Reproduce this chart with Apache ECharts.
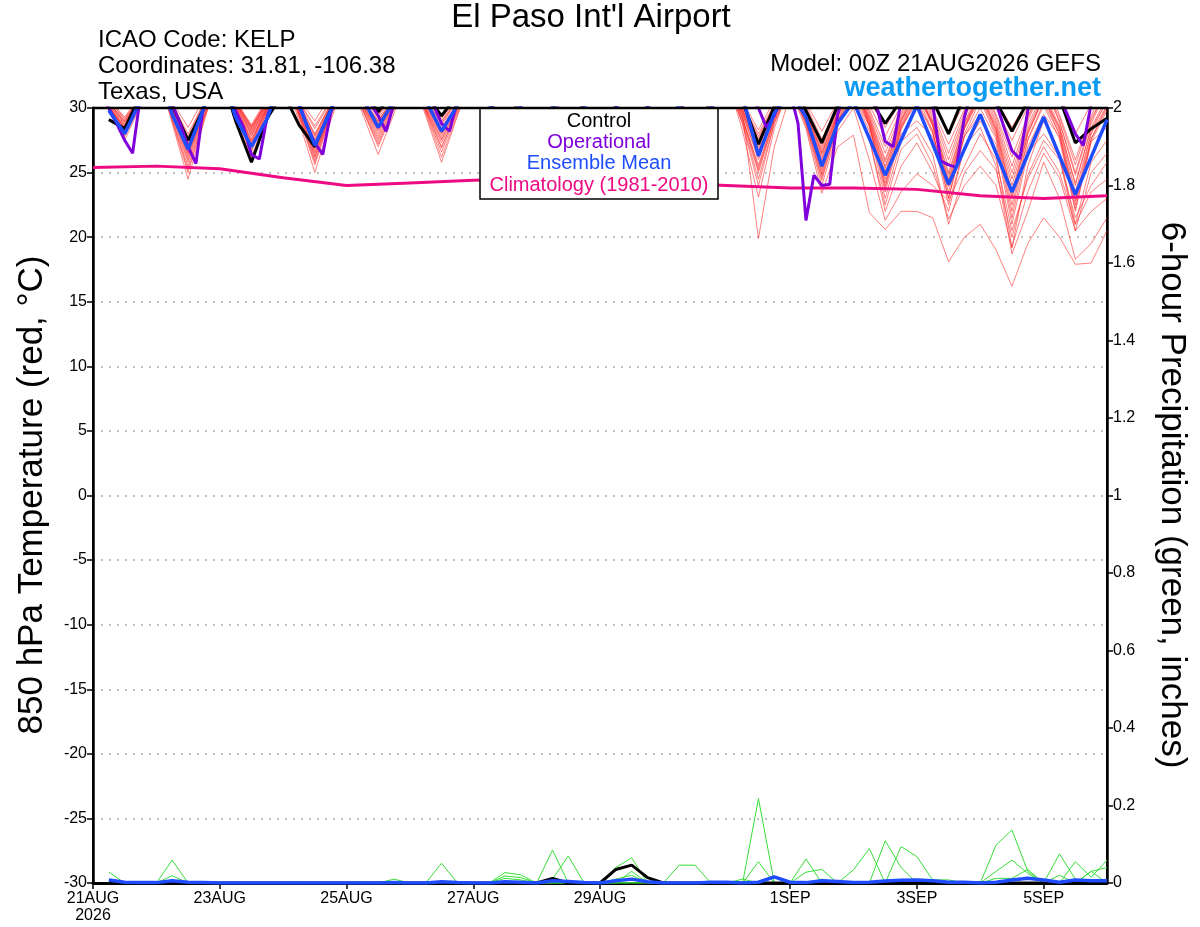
<!DOCTYPE html>
<html><head><meta charset="utf-8">
<script src="https://cdn.jsdelivr.net/npm/echarts@6/dist/echarts.min.js"></script>
<style>html,body{margin:0;padding:0;background:#fff}#c{width:1200px;height:927px}</style>
</head><body><div id="c"></div><script>
// ---------- time base (hours after 21AUG2026 00Z) ----------
const hours6 = [6,12,18,24,30,36,42,48,54,60,66,72,78,84,90,96,102,108,114,120,126,132,138,144,150,156,162,168,174,180,186,192,198,204,210,216,222,228,234,240,246,252,258,264,270,276,282,288,294,300,306,312,318,324,330,336,342,348,354,360,366,372,378,384];
const hours3 = [];
for (let h = 3; h <= 384; h += 3) hours3.push(h);
const climHours = [0,24,48,72,96,120,144,168,192,216,240,264,288,312,336,360,384];

// ---------- x tick labels ----------
const tickIndex = [0,8,16,24,32,44,52,60];
const tickText = ['21AUG\n2026','23AUG','25AUG','27AUG','29AUG','1SEP','3SEP','5SEP'];

// ---------- 850 hPa temperature (deg C) ----------
const controlT = [29.1,28.4,31.0,33.2, 30.2,27.5,30.0,33.0, 29.0,25.8,29.2,31.2, 28.7,27.0,29.9,33.0, 31.5,29.7,31.3,33.4, 31.0,29.4,31.0,33.2, 30.6,28.6,30.8,33.0, 30.4,28.0,30.5,32.8, 30.0,27.5,30.2,33.0, 30.5,28.2,30.6,32.6, 30.5,27.2,30.1,32.5, 29.8,27.3,30.2,33.0, 30.8,28.8,30.6,32.6, 30.6,28.0,31.0,32.8, 30.5,28.2,30.5,32.5, 30.8,27.3,28.4,29.2];
const meanT = [29.8,28.0,30.6,33.0, 29.5,26.8,30.0,33.0, 29.3,27.0,29.2,32.8, 30.2,27.1,29.8,33.0, 30.8,28.5,30.6,33.2, 30.6,28.2,30.2,33.0, 30.3,28.0,30.3,32.8, 30.1,27.6,30.0,32.6, 30.2,27.8,30.1,32.7, 29.9,27.2,29.9,32.4, 30.9,26.3,29.6,31.3, 29.3,25.5,28.8,30.5, 27.65,24.8,27.5,30.2, 27.2,24.1,26.8,29.5, 26.5,23.5,26.4,29.3, 26.3,23.3,26.2,29.1];
const operationalT = [31.0,30.0,28.8,27.5,26.5,31.0,32.5,33.0, 32.0,30.3,28.8,27.0,25.7,30.5,32.5,33.2, 31.2,29.8,28.5,26.4,26.05,29.4,31.0,32.8, 32.0,30.5,28.6,27.3,26.4,29.6,31.2,33.0, 32.5,31.3,30.4,29.4,28.2,30.4,32.0,33.3, 32.4,31.2,30.2,28.8,28.2,30.6,32.0,33.0, 32.0,30.6,29.2,28.0,27.6,30.0,31.8,33.0, 32.3,31.0,29.6,28.8,28.5,30.5,32.0,33.2, 32.0,30.4,28.8,27.4,27.0,29.8,31.6,32.8, 32.0,30.6,29.3,28.2,27.8,30.2,31.8,33.0, 32.5,31.5,30.8,30.0,28.5,29.4,31.2,31.2, 28.8,21.3,24.8,24.0,24.1,29.5,32.0,33.0, 32.0,30.8,30.0,27.4,27.0,30.5,32.0,33.0, 31.8,30.3,25.9,25.6,25.4,29.3,31.5,32.5, 32.0,30.4,28.5,26.7,26.05,29.8,31.5,32.5, 31.8,30.8,29.5,28.0,27.1,30.3,32.0,32.5];
const climatologyT = [25.4,25.5,25.3,24.6,24.0,24.2,24.4,24.5,24.3,24.2,24.0,23.8,23.8,23.7,23.2,23.0,23.2];

const mem01 = [30.0,28.6,30.6,33.0, 29.9,27.2,30.0,33.2, 30.1,27.8,30.2,32.8, 29.7,26.5,29.6,33.0, 30.3,28.0,30.4,33.5, 30.0,27.5,30.1,33.1, 30.1,27.6,30.2,33.0, 29.9,27.0,29.8,32.7, 30.0,27.4,30.1,32.9, 29.8,26.8,29.7,32.4, 29.5,26.0,29.4,32.0, 29.3,25.4,29.0,31.6, 28.6,24.0,28.4,30.5, 28.2,23.0,27.8,30.0, 27.6,21.5,27.0,29.5, 27.8,22.2,27.4,28.5];
const mem02 = [30.4,29.0,30.9,33.4, 29.5,26.0,29.6,33.0, 30.4,28.2,30.5,33.2, 30.2,27.8,30.3,33.4, 30.7,29.0,30.8,33.6, 30.6,28.8,30.7,33.3, 30.4,28.2,30.4,33.1, 30.5,28.5,30.6,33.2, 30.3,28.0,30.3,33.0, 30.1,27.5,30.0,32.8, 29.9,27.0,29.9,32.6, 29.7,26.5,29.6,32.2, 29.2,25.5,29.0,31.5, 28.8,24.5,28.6,31.2, 28.6,24.0,28.4,31.0, 28.4,23.5,28.1,30.6];
const mem03 = [30.2,28.2,30.5,32.8, 29.2,25.5,29.3,32.6, 29.8,27.0,29.9,32.7, 29.0,25.0,29.0,32.5, 29.9,27.2,30.0,33.0, 29.6,26.2,29.5,32.8, 29.8,26.8,29.8,32.8, 29.5,26.0,29.4,32.5, 29.7,26.5,29.6,32.6, 29.5,26.0,29.3,32.0, 29.0,25.0,29.0,31.5, 28.8,24.6,28.6,30.5, 27.6,22.5,26.8,28.0, 25.6,21.4,24.0,25.5, 24.0,19.2,23.5,26.5, 24.6,20.5,22.0,23.0];
const mem04 = [30.5,28.9,30.8,33.5, 30.2,27.8,30.4,33.6, 30.5,28.5,30.6,33.5, 30.4,28.0,30.3,33.7, 31.0,29.5,31.2,34.0, 30.9,29.2,31.0,33.8, 30.7,28.8,30.8,33.6, 30.8,29.0,30.9,33.5, 30.6,28.6,30.7,33.4, 30.5,28.4,30.5,33.2, 30.2,27.6,30.2,33.0, 30.0,27.2,30.0,32.8, 29.9,27.0,29.9,32.6, 29.7,26.5,29.7,32.3, 29.3,25.5,29.2,32.0, 29.0,25.0,29.0,31.6];
const mem05 = [29.8,27.8,30.3,33.0, 29.7,26.5,29.7,32.8, 29.7,26.6,29.8,32.9, 29.9,27.2,30.0,33.2, 30.4,28.4,30.5,33.4, 29.9,27.0,29.9,33.0, 30.0,27.2,30.0,33.0, 29.7,26.6,29.7,32.8, 29.9,27.0,29.9,32.8, 29.4,25.8,29.3,32.4, 28.2,23.1,28.4,32.0, 28.6,24.0,28.2,30.0, 26.0,21.3,23.5,24.9, 24.0,22.8,25.5,28.0, 26.0,20.5,24.5,27.0, 25.0,21.0,23.5,24.5];
const mem06 = [30.1,28.4,30.6,33.1, 28.8,24.5,28.9,33.0, 30.0,27.4,30.1,33.0, 29.5,26.0,29.5,33.1, 30.1,27.6,30.2,33.4, 30.3,28.0,30.3,33.2, 30.2,27.9,30.3,33.0, 30.1,27.6,30.1,33.0, 30.2,27.8,30.2,32.9, 29.9,27.0,29.8,32.6, 29.7,26.5,29.6,32.3, 29.4,25.8,29.3,32.0, 29.0,25.0,28.9,31.4, 28.6,24.0,28.4,31.0, 28.2,23.0,28.0,30.8, 28.5,24.2,28.4,30.5];
const mem07 = [30.7,29.3,31.0,33.6, 30.5,28.5,30.7,33.6, 30.6,28.7,30.8,33.8, 30.7,29.0,31.0,34.0, 31.4,30.0,31.6,34.2, 31.3,30.0,31.4,34.0, 31.0,29.4,31.1,33.8, 31.1,29.5,31.2,33.9, 31.0,29.3,31.0,33.7, 30.8,29.0,30.9,33.5, 30.5,28.3,30.6,33.3, 30.4,28.2,30.5,33.2, 30.6,28.5,30.6,33.0, 30.3,28.0,30.4,33.0, 30.6,28.5,30.6,33.0, 30.3,28.0,30.3,32.6];
const mem08 = [29.9,28.0,30.4,33.0, 29.8,26.8,29.8,32.9, 29.5,26.2,29.5,32.6, 30.0,27.5,30.1,33.0, 29.6,26.4,29.6,32.8, 29.4,25.8,29.4,32.6, 29.5,26.0,29.5,32.6, 29.2,25.5,29.2,32.4, 29.2,25.5,29.3,32.3, 29.0,25.0,29.0,32.0, 28.8,24.5,28.8,31.5, 28.4,23.4,27.0,27.9, 21.9,20.6,22.0,22.0, 21.5,18.1,20.0,21.0, 19.0,16.2,19.5,21.5, 20.0,17.9,18.0,20.5];
const mem09 = [30.3,28.7,30.7,33.2, 30.1,27.5,30.1,33.1, 30.3,28.0,30.3,33.2, 29.8,26.8,29.8,33.3, 30.6,28.8,30.7,33.6, 30.5,28.4,30.5,33.3, 30.5,28.5,30.5,33.2, 30.3,28.0,30.3,33.0, 30.4,28.2,30.4,33.0, 30.2,27.8,30.2,32.8, 29.8,26.8,29.7,32.4, 29.5,26.2,29.4,32.0, 28.9,24.8,28.7,31.2, 28.6,23.9,28.4,30.8, 28.0,22.5,27.6,30.4, 28.0,22.8,27.6,30.0];
const mem10 = [29.7,27.5,30.2,33.0, 29.4,25.8,29.4,32.7, 30.0,27.6,30.1,33.0, 29.3,25.6,29.3,32.6, 29.9,27.0,29.9,33.0, 29.7,26.6,29.7,32.8, 29.9,27.0,29.9,32.9, 29.8,26.8,29.8,32.8, 29.6,26.2,29.5,32.6, 29.6,26.5,29.5,32.0, 29.5,19.9,27.0,31.0, 29.0,25.0,29.0,31.0, 28.6,23.5,28.0,29.0, 27.8,22.5,27.0,28.5, 25.5,18.7,22.0,25.8, 23.0,18.3,19.5,21.5];
const mem11 = [30.6,29.1,30.9,33.4, 29.9,27.0,30.0,33.3, 30.5,28.4,30.6,33.4, 30.5,28.4,30.5,33.6, 30.9,29.2,31.0,33.9, 31.0,29.5,31.2,33.9, 30.6,28.6,30.7,33.5, 30.7,28.8,30.8,33.6, 30.8,29.0,30.9,33.5, 30.3,28.0,30.3,33.1, 30.1,27.4,30.1,32.9, 30.2,27.6,30.1,32.8, 29.7,26.5,29.6,32.3, 29.2,25.5,29.2,32.0, 29.5,26.2,29.4,31.8, 28.9,24.8,28.8,31.4];
const mem12 = [30.1,28.3,30.5,33.0, 29.6,26.2,29.6,32.9, 29.9,27.3,30.0,33.0, 29.6,26.3,29.6,32.9, 30.2,28.2,30.3,33.2, 29.9,27.3,29.9,33.0, 30.0,27.4,30.0,33.0, 29.9,27.3,30.0,33.0, 30.0,27.6,30.1,32.9, 29.9,27.2,29.8,32.5, 29.2,25.6,29.2,31.8, 28.8,24.4,28.6,31.0, 28.2,23.0,27.4,28.5, 26.4,21.0,25.0,26.7, 25.2,20.0,24.8,27.5, 26.0,21.5,24.0,25.8];
const mem13 = [30.4,28.8,30.8,33.3, 30.1,27.4,30.2,33.4, 30.5,28.6,30.6,33.4, 30.2,27.6,30.2,33.5, 30.9,29.4,31.1,33.8, 30.6,28.6,30.7,33.6, 30.8,29.0,30.9,33.6, 30.5,28.4,30.6,33.4, 30.7,28.8,30.8,33.4, 30.6,28.6,30.7,33.2, 30.3,28.0,30.3,33.0, 29.8,26.8,29.8,32.6, 30.2,27.8,30.2,32.6, 29.9,27.2,29.9,32.4, 30.0,27.5,30.1,32.5, 29.5,26.0,29.4,32.0];
const mem14 = [29.9,27.9,30.3,33.0, 29.1,25.2,29.2,32.7, 29.8,26.8,29.8,32.8, 29.7,26.6,29.7,33.0, 30.2,27.8,30.3,33.2, 30.2,27.8,30.2,33.1, 29.7,26.5,29.7,32.8, 30.2,27.9,30.2,33.1, 29.8,26.8,29.8,32.7, 29.6,26.3,29.5,32.3, 28.7,24.0,28.8,32.0, 29.1,25.2,29.0,30.8, 27.6,22.0,25.5,27.3, 25.0,22.0,27.0,29.0, 27.2,21.0,26.5,28.0, 26.2,20.5,25.0,26.5];
const mem15 = [30.2,28.5,30.6,33.2, 29.7,26.6,29.8,33.0, 30.2,27.9,30.3,33.1, 29.9,27.0,29.9,33.2, 30.5,28.6,30.6,33.5, 30.4,28.2,30.4,33.2, 30.3,28.0,30.4,33.1, 30.4,28.2,30.4,33.1, 29.9,27.2,30.0,32.8, 30.1,27.6,30.1,32.7, 29.5,26.2,29.5,32.3, 29.5,26.0,29.4,32.0, 28.7,24.2,28.5,31.2, 28.9,24.8,28.8,31.2, 28.4,23.5,28.2,30.8, 28.2,23.0,28.0,30.2];
const mem16 = [30.6,29.2,30.9,33.5, 30.3,28.0,30.4,33.5, 30.4,28.3,30.5,33.6, 30.5,28.6,30.6,33.8, 31.1,29.6,31.3,34.0, 30.8,29.0,30.9,33.8, 30.9,29.2,31.0,33.7, 30.6,28.6,30.7,33.6, 30.9,29.2,31.0,33.6, 30.7,28.8,30.7,33.3, 30.2,27.8,30.2,33.0, 29.9,27.0,29.9,32.6, 29.5,26.0,29.4,32.2, 29.5,26.0,29.4,32.0, 29.0,25.0,29.0,31.8, 29.3,25.6,29.2,31.4];
const mem17 = [30.0,28.1,30.4,32.9, 29.6,26.4,29.7,32.8, 29.9,27.2,30.0,32.9, 29.4,25.8,29.4,32.7, 30.0,27.4,30.1,33.1, 29.8,26.9,29.8,32.9, 29.7,26.4,29.7,32.7, 29.6,26.2,29.6,32.6, 29.5,26.0,29.5,32.5, 29.3,25.5,29.2,32.2, 29.2,25.4,29.2,32.0, 29.0,24.8,28.9,31.6, 28.6,23.8,28.3,31.0, 28.2,23.0,28.0,30.6, 27.8,22.0,27.5,30.2, 27.6,22.0,27.4,29.8];
const mem18 = [30.4,28.9,30.8,33.3, 30.1,27.6,30.2,33.2, 30.3,28.1,30.4,33.3, 30.0,27.3,30.0,33.4, 30.6,28.9,30.8,33.7, 30.3,28.0,30.4,33.4, 30.4,28.3,30.5,33.3, 30.3,28.0,30.3,33.2, 30.4,28.4,30.5,33.2, 30.3,28.2,30.4,33.0, 29.9,27.2,29.9,32.7, 29.7,26.6,29.6,32.4, 29.3,25.8,29.2,31.8, 29.0,25.0,28.9,31.5, 28.8,24.5,28.7,31.2, 28.6,24.0,28.5,30.8];
const mem19 = [30.1,28.4,30.6,33.1, 29.0,25.0,29.1,32.8, 30.1,27.5,30.1,33.0, 29.6,26.2,29.6,33.0, 30.3,28.3,30.4,33.3, 30.1,27.6,30.1,33.0, 30.1,27.6,30.1,33.0, 29.9,27.2,29.9,32.8, 30.0,27.4,30.0,32.8, 29.7,26.6,29.6,32.4, 29.1,25.2,29.1,32.0, 29.3,25.6,29.2,31.8, 28.8,24.5,28.6,30.5, 28.0,23.5,27.8,29.5, 26.4,19.2,25.5,29.0, 26.5,21.0,25.8,27.5];
const mem20 = [30.3,28.6,30.7,33.2, 30.0,27.1,30.1,33.1, 30.4,28.5,30.5,33.3, 30.3,27.9,30.3,33.4, 30.7,29.0,30.8,33.7, 30.6,28.9,30.7,33.5, 30.3,28.0,30.3,33.2, 30.5,28.7,30.6,33.3, 30.5,28.5,30.5,33.2, 30.2,27.9,30.2,32.9, 29.7,26.6,29.7,32.5, 29.6,26.4,29.5,32.2, 29.1,25.3,29.0,31.6, 28.7,24.3,28.5,31.2, 28.3,23.2,28.0,30.8, 27.9,22.5,27.6,30.2];
const tempMembers = [mem01,mem02,mem03,mem04,mem05,mem06,mem07,mem08,mem09,mem10,mem11,mem12,mem13,mem14,mem15,mem16,mem17,mem18,mem19,mem20];

// ---------- 6-hour precipitation (inches) ----------
const controlP = [0,0,0,0, 0,0,0,0, 0,0,0,0, 0,0,0,0, 0,0,0,0, 0,0,0,0, 0,0,0,0, 0.012,0,0,0, 0.035,0.046,0.014,0, 0,0,0,0, 0,0,0,0, 0,0,0,0, 0,0,0,0, 0,0,0,0, 0,0,0,0, 0,0,0,0];
const meanP = [0.008,0.002,0.001,0.001, 0.006,0.002,0.001,0, 0,0,0,0, 0,0,0,0, 0,0,0.001,0, 0,0.003,0.001,0, 0,0.003,0.002,0, 0.006,0.004,0.001,0, 0.006,0.01,0.003,0, 0,0,0.002,0.002, 0,0.002,0.016,0.002, 0.001,0.006,0.004,0.001, 0.002,0.005,0.007,0.008, 0.006,0.002,0.002,0, 0.002,0.008,0.012,0.008, 0.002,0.008,0.006,0.006, 0.005];
const precip1 = [0.028,0,0,0, 0.059,0,0,0, 0,0,0,0, 0,0,0,0, 0,0,0,0, 0,0,0,0, 0,0,0,0, 0.085,0,0,0, 0,0,0,0, 0,0,0,0, 0,0.218,0,0, 0,0,0,0, 0,0,0,0, 0,0,0,0, 0.098,0.137,0.03,0, 0,0,0,0];
const precip2 = [0.008,0,0,0, 0.019,0,0,0, 0,0,0,0, 0,0,0,0, 0,0,0,0, 0,0.051,0,0, 0,0,0,0, 0,0,0,0, 0.04,0.065,0,0, 0,0,0,0, 0,0,0,0, 0.062,0,0,0, 0,0,0,0, 0,0,0,0, 0,0,0,0, 0.075,0.01,0,0];
const precip3 = [0,0,0,0, 0,0,0,0, 0,0,0,0, 0,0,0,0, 0,0,0.01,0, 0,0,0,0, 0,0.027,0.021,0, 0.01,0.07,0,0, 0,0,0,0, 0,0,0,0, 0,0.055,0,0, 0,0,0,0.034, 0.089,0,0,0, 0,0,0,0, 0,0,0,0, 0,0,0.03,0];
const precip4 = [0,0,0,0, 0,0,0.003,0, 0,0,0,0, 0,0,0,0, 0,0,0,0, 0,0,0,0, 0,0.018,0.014,0, 0,0,0,0, 0,0,0,0, 0.046,0.046,0,0, 0,0,0,0, 0,0,0,0, 0,0.109,0.04,0, 0,0,0,0, 0,0,0,0, 0,0.055,0.015,0.059];
const precip5 = [0,0,0,0, 0,0,0,0, 0,0,0,0, 0,0,0,0, 0,0,0,0, 0,0,0,0, 0,0.012,0.008,0, 0,0,0,0, 0.01,0.02,0,0, 0,0,0,0, 0,0,0,0, 0.028,0.035,0,0, 0,0,0.094,0.068, 0.008,0.008,0,0, 0.03,0.059,0.025,0, 0,0,0,0];
const precip6 = [0,0,0,0, 0,0,0,0, 0,0,0,0, 0.003,0,0,0, 0.003,0,0,0, 0,0,0,0, 0,0,0,0, 0,0,0,0, 0,0.03,0,0, 0,0,0,0, 0.01,0,0,0, 0,0.01,0,0, 0,0,0,0, 0,0,0,0, 0.012,0.012,0.035,0, 0.02,0,0.03,0.04];
const precipMembers = [precip1,precip2,precip3,precip4,precip5,precip6];

// ---------- build chart ----------
const FONT = '"Liberation Sans", Arial, Helvetica, sans-serif';
const pair = (xs, ys) => ys.map((v, i) => [xs[i], v]);
const catData = [];
for (let i = 0; i <= 64; i++) catData.push('h' + (i * 6));
const tickShown = (idx) => tickIndex.indexOf(idx) >= 0;

const series = [];
tempMembers.forEach((m, k) => series.push({
  name: 'member' + (k + 1), type: 'line', xAxisIndex: 1, yAxisIndex: 0,
  data: pair(hours6, m), symbol: 'none', z: 2, silent: true,
  lineStyle: { color: 'rgba(255,45,45,0.6)', width: 1 }
}));
precipMembers.forEach((m, k) => series.push({
  name: 'precip' + (k + 1), type: 'line', xAxisIndex: 1, yAxisIndex: 1,
  data: pair(hours6, m), symbol: 'none', z: 2, silent: true,
  lineStyle: { color: '#38dd38', width: 1 }
}));
series.push({ name: 'Climatology', type: 'line', xAxisIndex: 1, yAxisIndex: 0,
  data: pair(climHours, climatologyT), symbol: 'none', z: 3,
  lineStyle: { color: '#ee0a82', width: 3 } });
series.push({ name: 'controlP', type: 'line', xAxisIndex: 1, yAxisIndex: 1,
  data: pair(hours6, controlP), symbol: 'none', z: 4,
  lineStyle: { color: '#000', width: 3 } });
series.push({ name: 'meanP', type: 'line', xAxisIndex: 1, yAxisIndex: 1,
  data: pair(hours6, meanP), symbol: 'none', z: 4,
  lineStyle: { color: '#1f4cff', width: 3.5 } });
series.push({ name: 'Control', type: 'line', xAxisIndex: 1, yAxisIndex: 0,
  data: pair(hours6, controlT), symbol: 'none', z: 5,
  lineStyle: { color: '#000', width: 3 } });
series.push({ name: 'Operational', type: 'line', xAxisIndex: 1, yAxisIndex: 0,
  data: pair(hours3, operationalT), symbol: 'none', z: 5,
  lineStyle: { color: '#7f00dd', width: 3 } });
series.push({ name: 'Ensemble Mean', type: 'line', xAxisIndex: 1, yAxisIndex: 0,
  data: pair(hours6, meanT), symbol: 'none', z: 6,
  lineStyle: { color: '#1f4cff', width: 3.5 } });

const txt = (x, y, text, size, color, align, extra) => Object.assign({
  type: 'text', x: x, y: y, z: 100,
  style: { text: text, fill: color, font: size + 'px ' + FONT, textAlign: align, textVerticalAlign: 'middle' }
}, extra || {});

const chart = echarts.init(document.getElementById('c'), null, { renderer: 'canvas' });
chart.setOption({
  animation: false,
  backgroundColor: '#fff',
  grid: { left: 93, right: 93, top: 108, bottom: 44, show: true, borderColor: '#000', borderWidth: 2, backgroundColor: 'rgba(0,0,0,0)' },
  xAxis: [
    { type: 'category', data: catData, boundaryGap: false, position: 'bottom',
      axisLine: { onZero: false, lineStyle: { color: '#000', width: 3 } },
      axisTick: { interval: tickShown, length: 6, lineStyle: { color: '#000', width: 1.5 } },
      axisLabel: { interval: tickShown, formatter: (v, idx) => { const k = tickIndex.indexOf(idx); return k >= 0 ? tickText[k] : ''; },
        color: '#000', fontSize: 16, fontFamily: FONT, margin: 7, lineHeight: 17 },
      splitLine: { show: false } },
    { type: 'value', min: 0, max: 384, show: false }
  ],
  yAxis: [
    { type: 'value', min: -30, max: 30, interval: 5, position: 'left',
      axisLine: { show: true, onZero: false, lineStyle: { color: '#000', width: 2.5 } },
      axisTick: { show: true, length: 6, lineStyle: { color: '#000', width: 1.5 } },
      axisLabel: { color: '#000', fontSize: 16, fontFamily: FONT, margin: 6 },
      splitLine: { show: true, lineStyle: { color: '#aaa', width: 1.5, type: [2, 6] } } },
    { type: 'value', min: 0, max: 2, interval: 0.2, position: 'right',
      axisLine: { show: true, onZero: false, lineStyle: { color: '#000', width: 2.5 } },
      axisTick: { show: true, length: 6, lineStyle: { color: '#000', width: 1.5 } },
      axisLabel: { color: '#000', fontSize: 16, fontFamily: FONT, margin: 6, formatter: (v) => String(+v.toFixed(1)) },
      splitLine: { show: false } }
  ],
  series: series,
  graphic: [
    { type: 'line', z: 95, shape: { x1: 92, y1: 108, x2: 1108, y2: 108 }, style: { stroke: '#000', lineWidth: 2.5 } },
    txt(591, 18, "El Paso Int'l Airport", 33, '#000', 'center'),
    txt(98, 40, 'ICAO Code: KELP', 24, '#000', 'left'),
    txt(98, 66, 'Coordinates: 31.81, -106.38', 24, '#000', 'left'),
    txt(98, 92, 'Texas, USA', 24, '#000', 'left'),
    txt(1101, 64, 'Model: 00Z 21AUG2026 GEFS', 24, '#000', 'right'),
    { type: 'text', x: 1101, y: 89, z: 100, style: { text: 'weathertogether.net', fill: '#0a9cf5', font: 'bold 27px ' + FONT, textAlign: 'right', textVerticalAlign: 'middle' } },
    { type: 'rect', z: 90, shape: { x: 480, y: 108, width: 238, height: 91 }, style: { fill: '#fff', stroke: '#000', lineWidth: 1.5 } },
    txt(599, 121, 'Control', 20, '#000', 'center'),
    txt(599, 142, 'Operational', 20, '#7f00dd', 'center'),
    txt(599, 163, 'Ensemble Mean', 20, '#1f4cff', 'center'),
    txt(599, 185, 'Climatology (1981-2010)', 20, '#ee0a82', 'center'),
    txt(32, 495, '850 hPa Temperature (red, °C)', 35, '#000', 'center', { rotation: Math.PI / 2 }),
    txt(1172, 495, '6-hour Precipitation (green, inches)', 35, '#000', 'center', { rotation: -Math.PI / 2 })
  ]
});
</script></body></html>
